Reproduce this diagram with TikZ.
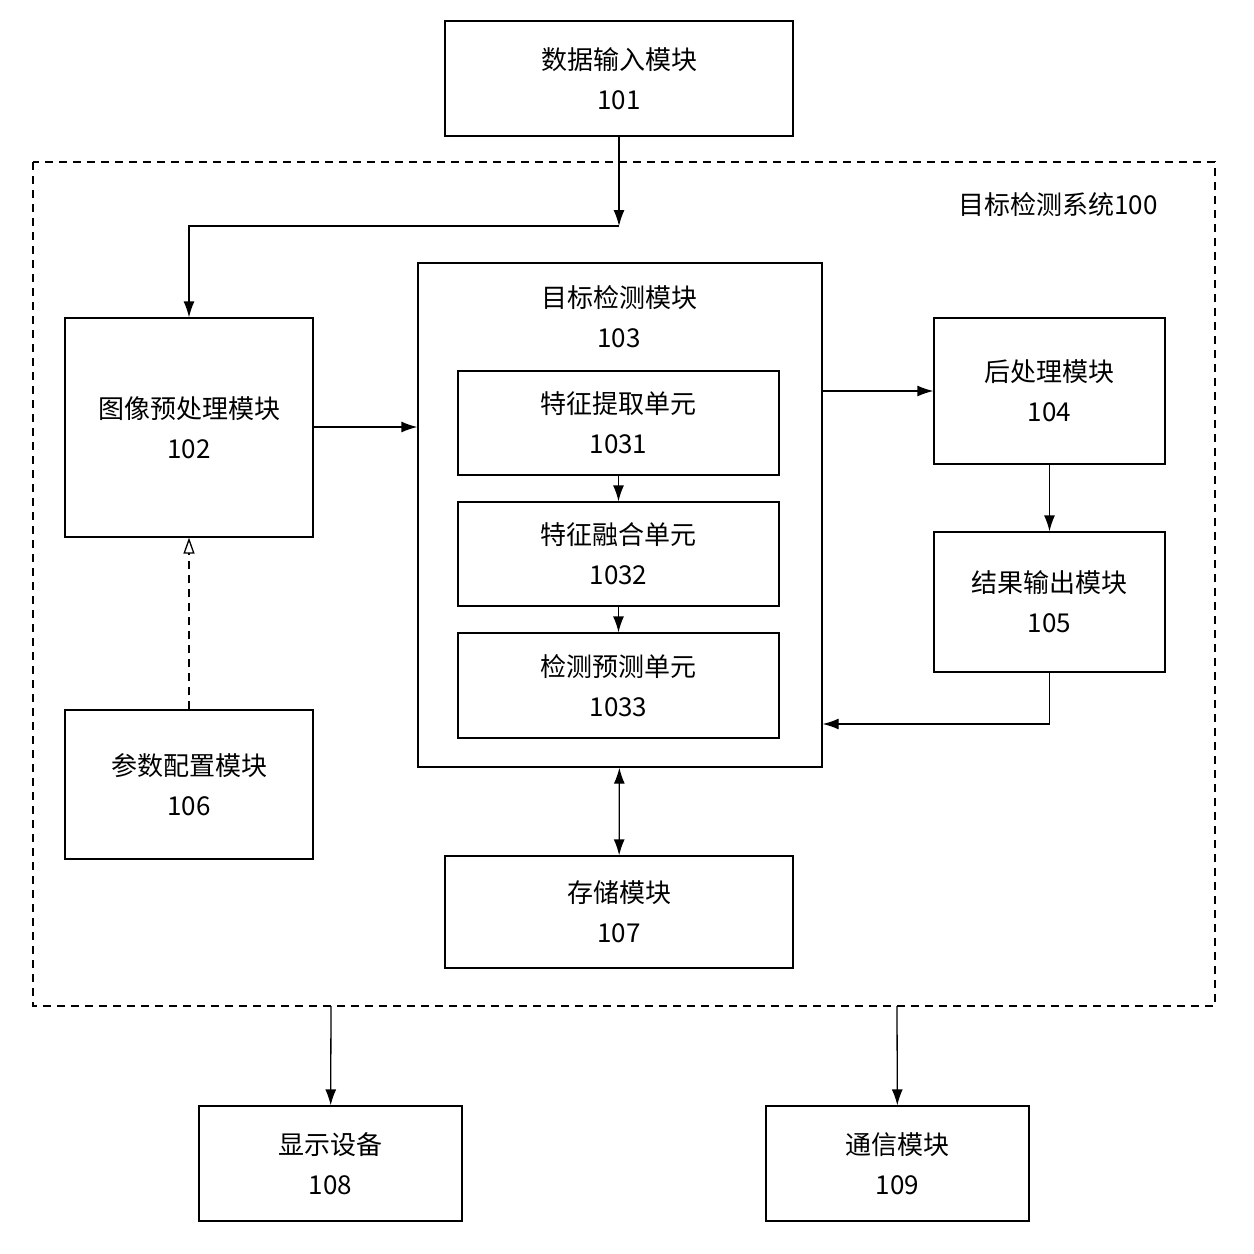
\documentclass[tikz,border=0pt]{standalone}
\usepackage{fontspec}
\newfontfamily\cjk{Noto Sans CJK SC}
\usetikzlibrary{arrows.meta}
\tikzset{
  blk/.style={draw,line width=1.3pt,inner sep=0pt,align=center,font=\cjk\fontsize{26}{40}\selectfont},
  arr/.style={line width=1.3pt,-{Latex[length=16pt,width=11pt]}},
}
\begin{document}
\begin{tikzpicture}[x=1pt,y=-1pt]
\useasboundingbox (0,0) rectangle (1254,1254);
\fill[white] (0,0) rectangle (1254,1254);

%system frame
\draw[line width=1.3pt,dash pattern=on 8pt off 6pt] (33,162) rectangle (1215,1006);
\node[font=\cjk\fontsize{26}{32}\selectfont] (sys) at (1058,205) {目标检测系统100};

%modules
\node[blk,minimum width=348pt,minimum height=115pt] (input) at (619,78.5) {数据输入模块\\101};
\node[blk,minimum width=248pt,minimum height=219pt] (pre) at (189,427.5) {图像预处理模块\\102};
\node[draw,line width=1.3pt,minimum width=404pt,minimum height=504pt] (det) at (620,515) {};
\node[blk,draw=none] (dett) at (619,317) {目标检测模块\\103};
\node[blk,minimum width=321pt,minimum height=104pt] (u1) at (618.5,423) {特征提取单元\\1031};
\node[blk,minimum width=321pt,minimum height=104pt] (u2) at (618.5,554) {特征融合单元\\1032};
\node[blk,minimum width=321pt,minimum height=105pt] (u3) at (618.5,685.5) {检测预测单元\\1033};
\node[blk,minimum width=231pt,minimum height=146pt] (post) at (1049.5,391) {后处理模块\\104};
\node[blk,minimum width=231pt,minimum height=140pt] (out) at (1049.5,602) {结果输出模块\\105};
\node[blk,minimum width=248pt,minimum height=149pt] (par) at (189,784.5) {参数配置模块\\106};
\node[blk,minimum width=348pt,minimum height=112pt] (mem) at (619,912) {存储模块\\107};
\node[blk,minimum width=263pt,minimum height=115pt] (disp) at (330.5,1163.5) {显示设备\\108};
\node[blk,minimum width=263pt,minimum height=115pt] (comm) at (897.5,1163.5) {通信模块\\109};

\coordinate (j) at (619,226);
\coordinate (r) at (1049,724);

%connectors
\draw[arr] (input) -- (j);
\draw[arr] (j) -| (pre);
\draw[arr] (pre.east |- 0,427) -- (det.west |- 0,427);
\draw[arr] (det.east |- 0,391) -- (post.west |- 0,391);
\draw[arr] (post) -- (out);
\draw[arr] (out.south) |- (det.east |- r);
\draw[arr] (u1) -- (u2);
\draw[arr] (u2) -- (u3);
\draw[line width=1.3pt,dash pattern=on 8pt off 6pt,-{Triangle[open,length=16pt,width=11pt]}] (par) -- (pre);
\draw[line width=1.3pt,{Latex[length=16pt,width=11pt]}-{Latex[length=16pt,width=11pt]}] (det) -- (mem);
\draw[arr] (331,1006) -- (disp);
\draw[arr] (897,1006) -- (comm);
\end{tikzpicture}
\end{document}
